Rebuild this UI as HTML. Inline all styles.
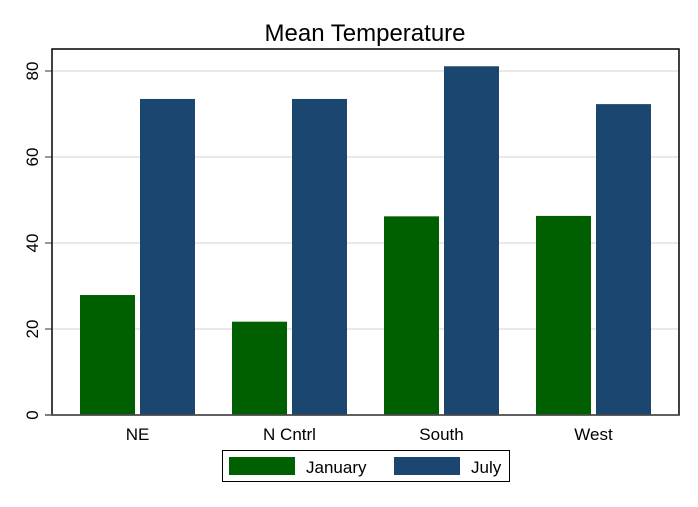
<!DOCTYPE html>
<html><head><meta charset="utf-8"><style>
body{margin:0;background:#fff}
svg{display:block;font-family:"Liberation Sans",Arial,sans-serif}
</style></head><body>
<svg id="c" width="698" height="507">
<rect x="0" y="0" width="698" height="507" fill="#fff"/>
<text x="365" y="41" font-size="24" text-anchor="middle" fill="#000">Mean Temperature</text>
<g id="grid"></g><g id="bars"></g><g id="axes"></g>
<g>
<rect x="222.5" y="450.5" width="287" height="31" fill="#fff" stroke="#000" stroke-width="1"/>
<rect x="229" y="457" width="66" height="18" fill="#005f00"/>
<text x="306" y="473" font-size="17">January</text>
<rect x="394" y="457" width="66" height="18" fill="#1b466f"/>
<text x="471" y="473" font-size="17">July</text>
</g>
</svg>
<script>
const categories=["NE","N Cntrl","South","West"];
const january=[27.9,21.7,46.2,46.3];
const july=[73.5,73.5,81.1,72.3];
const yTicks=[0,20,40,60,80];
const NS="http://www.w3.org/2000/svg";
const x0=52,x1=679,yTop=49,yBase=415;
function y(v){return yBase-v*4.3;}
function xc(i){return 137.5+i*152;}
function mk(t,a,p){const e=document.createElementNS(NS,t);for(const k in a)e.setAttribute(k,a[k]);p.appendChild(e);return e;}
const grid=document.getElementById('grid'),bars=document.getElementById('bars'),axes=document.getElementById('axes');
mk('rect',{x:x0,y:yTop,width:x1-x0,height:yBase-yTop,fill:'none',stroke:'#000','stroke-width':1.5},axes);
yTicks.forEach(t=>{
  if(t>0){const g=mk('line',{x1:x0,x2:x1,y1:y(t),y2:y(t),stroke:'#e2e2e2','stroke-width':1.5},grid);
  
  }
  const tk=mk('line',{x1:x0-7,x2:x0,y1:y(t),y2:y(t),stroke:'#333','stroke-width':1},axes);
  
  
  const yy=y(t);
  const lb=mk('text',{x:0,y:0,'font-size':17,'text-anchor':'middle',transform:`translate(38,${yy}) rotate(-90)`},axes);
  lb.textContent=t;
  
  
});
mk('line',{x1:x0-7,x2:x1,y1:yBase,y2:yBase,stroke:'#555','stroke-width':1.5},axes);
categories.forEach((c,i)=>{
  const cx=xc(i);
  const b1=mk('rect',{x:cx-57.5,y:y(january[i]),width:55,height:yBase-y(january[i]),fill:'#005f00'},bars);
  
  
  const b2=mk('rect',{x:cx+2.5,y:y(july[i]),width:55,height:yBase-y(july[i]),fill:'#1b466f'},bars);
  
  
  const l=mk('text',{x:cx,y:440,'font-size':17,'text-anchor':'middle'},axes);
  l.textContent=c;
  
  
});
</script>
</body></html>
